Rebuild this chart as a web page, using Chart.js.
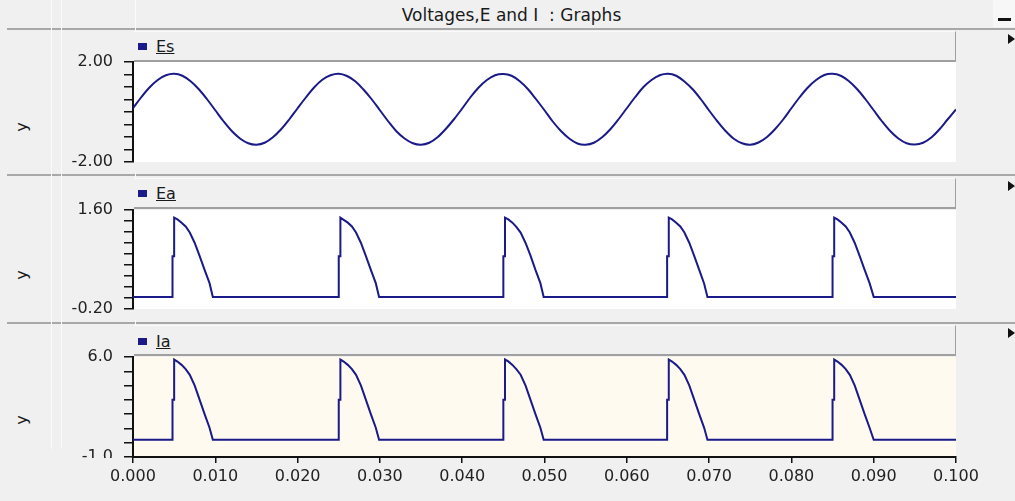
<!DOCTYPE html>
<html>
<head>
<meta charset="utf-8">
<script src="https://cdn.jsdelivr.net/npm/chart.js@4.4.0/dist/chart.umd.min.js"></script>
<style>
  html, body { margin: 0; padding: 0; }
  body {
    width: 1015px; height: 501px; overflow: hidden; position: relative;
    background: #f0f0f0; font-family: 'DejaVu Sans', sans-serif; color: #1a1a1a;
  }
  .abs { position: absolute; }
  .title { left: 4px; top: 0; width: 1015px; height: 29px; line-height: 30px; text-align: center; font-size: 17px; }
  .hline { height: 2px; background: #a8a8a8; }
  .vline { width: 1px; background: #fbfbfb; }
  .strip { left: 134px; width: 821px; border-right: 1px solid #a0a0a0; border-bottom: 2px solid #a0a0a0; border-top: 1px solid #fafafa; }
  .sq { width: 9px; height: 7px; background: #1a1a88; }
  .leg { font-size: 16px; text-decoration: underline; line-height: 20px; }
  .ylab { font-size: 16px; transform: rotate(-90deg); width: 20px; height: 20px; line-height: 20px; text-align: center; }
  .tri { width: 0; height: 0; border-top: 5px solid transparent; border-bottom: 5px solid transparent; border-left: 7px solid #111; }
  canvas { position: absolute; left: 0; }
</style>
</head>
<body>
<div class="abs title">Voltages,E and I&nbsp; : Graphs</div>
<div class="abs" style="left:993px;top:0;width:22px;height:27px;background:#f7f7f7;"></div>
<div class="abs" style="left:998px;top:18px;width:13px;height:3px;background:#111;"></div>

<div class="abs hline" style="left:7px;top:28px;width:1008px;"></div>
<div class="abs hline" style="left:7px;top:174px;width:1008px;"></div>
<div class="abs hline" style="left:7px;top:322px;width:1008px;"></div>

<div class="abs vline" style="left:51px;top:0;height:449px;"></div>
<div class="abs vline" style="left:61px;top:0;height:449px;"></div>
<div class="abs vline" style="left:135px;top:0;height:31px;"></div>
<div class="abs vline" style="left:135px;top:172px;height:6px;"></div>
<div class="abs vline" style="left:135px;top:320px;height:6px;"></div>

<div class="abs strip" style="top:31px;height:28px;"></div>
<div class="abs strip" style="top:178px;height:28px;"></div>
<div class="abs strip" style="top:325px;height:28px;"></div>

<div class="abs sq" style="left:138px;top:43px;"></div>
<div class="abs leg" style="left:156px;top:37px;">Es</div>
<div class="abs sq" style="left:138px;top:190px;"></div>
<div class="abs leg" style="left:156px;top:184px;">Ea</div>
<div class="abs sq" style="left:138px;top:338px;"></div>
<div class="abs leg" style="left:156px;top:332px;">Ia</div>

<div class="abs ylab" style="left:12px;top:117px;">y</div>
<div class="abs ylab" style="left:12px;top:265px;">y</div>
<div class="abs ylab" style="left:12px;top:410px;">y</div>

<div class="abs tri" style="left:1008px;top:34px;"></div>
<div class="abs tri" style="left:1008px;top:181px;"></div>
<div class="abs tri" style="left:1008px;top:328px;"></div>

<canvas id="cEs" width="1015" height="142" style="top:41px;"></canvas>
<canvas id="cEa" width="1015" height="141" style="top:189px;"></canvas>
<canvas id="cIa" width="1015" height="163" style="top:336px;"></canvas>

<script>
// time axis for the sine trace (s)
const esTime = [
  0.000, 0.001, 0.002, 0.003, 0.004, 0.005, 0.006, 0.007, 0.008, 0.009,
  0.010, 0.011, 0.012, 0.013, 0.014, 0.015, 0.016, 0.017, 0.018, 0.019,
  0.020, 0.021, 0.022, 0.023, 0.024, 0.025, 0.026, 0.027, 0.028, 0.029,
  0.030, 0.031, 0.032, 0.033, 0.034, 0.035, 0.036, 0.037, 0.038, 0.039,
  0.040, 0.041, 0.042, 0.043, 0.044, 0.045, 0.046, 0.047, 0.048, 0.049,
  0.050, 0.051, 0.052, 0.053, 0.054, 0.055, 0.056, 0.057, 0.058, 0.059,
  0.060, 0.061, 0.062, 0.063, 0.064, 0.065, 0.066, 0.067, 0.068, 0.069,
  0.070, 0.071, 0.072, 0.073, 0.074, 0.075, 0.076, 0.077, 0.078, 0.079,
  0.080, 0.081, 0.082, 0.083, 0.084, 0.085, 0.086, 0.087, 0.088, 0.089,
  0.090, 0.091, 0.092, 0.093, 0.094, 0.095, 0.096, 0.097, 0.098, 0.099,
  0.100
];
const esValues = [
  0.15, 0.59, 0.98, 1.28, 1.47, 1.53, 1.45, 1.23, 0.91, 0.51,
  0.07, -0.37, -0.76, -1.06, -1.25, -1.31, -1.23, -1.01, -0.69, -0.29,
  0.15, 0.58, 0.98, 1.29, 1.47, 1.53, 1.44, 1.23, 0.90, 0.51,
  0.07, -0.37, -0.77, -1.06, -1.25, -1.31, -1.23, -1.01, -0.68, -0.29,
  0.14, 0.59, 0.98, 1.28, 1.47, 1.52, 1.45, 1.23, 0.91, 0.50,
  0.07, -0.38, -0.76, -1.06, -1.26, -1.31, -1.23, -1.01, -0.69, -0.29,
  0.15, 0.59, 0.99, 1.28, 1.47, 1.53, 1.45, 1.22, 0.91, 0.51,
  0.06, -0.37, -0.76, -1.07, -1.25, -1.31, -1.22, -1.01, -0.69, -0.30,
  0.15, 0.59, 0.98, 1.28, 1.48, 1.53, 1.45, 1.23, 0.91, 0.51,
  0.07, -0.37, -0.76, -1.06, -1.25, -1.30, -1.23, -1.02, -0.69, -0.29,
  0.10
];

// time axis for the pulse traces (s)
const pulseTime = [
  0.0000,
  0.0048, 0.0048, 0.0050, 0.0050, 0.0054, 0.0059, 0.0064, 0.0069, 0.0075, 0.0081, 0.0087, 0.0093, 0.0097,
  0.0250, 0.0250, 0.0252, 0.0252, 0.0256, 0.0261, 0.0266, 0.0271, 0.0277, 0.0283, 0.0289, 0.0295, 0.0299,
  0.0450, 0.0450, 0.0452, 0.0452, 0.0456, 0.0461, 0.0466, 0.0471, 0.0477, 0.0483, 0.0489, 0.0495, 0.0499,
  0.0649, 0.0649, 0.0651, 0.0651, 0.0655, 0.0660, 0.0665, 0.0670, 0.0676, 0.0682, 0.0688, 0.0694, 0.0698,
  0.0850, 0.0850, 0.0852, 0.0852, 0.0856, 0.0861, 0.0866, 0.0871, 0.0877, 0.0883, 0.0889, 0.0895, 0.0900,
  0.1000
];
const eaValues = [
  0.02,
  0.02, 0.76, 0.76, 1.46, 1.43, 1.37, 1.30, 1.19, 1.00, 0.76, 0.51, 0.27, 0.02,
  0.02, 0.76, 0.76, 1.46, 1.42, 1.37, 1.30, 1.19, 1.00, 0.76, 0.51, 0.27, 0.02,
  0.02, 0.76, 0.76, 1.46, 1.43, 1.37, 1.29, 1.19, 1.00, 0.77, 0.51, 0.27, 0.02,
  0.02, 0.76, 0.76, 1.46, 1.43, 1.37, 1.30, 1.19, 1.00, 0.76, 0.51, 0.26, 0.02,
  0.02, 0.76, 0.76, 1.46, 1.43, 1.37, 1.30, 1.19, 1.00, 0.76, 0.51, 0.27, 0.02,
  0.02
];
const iaValues = [
  0.2,
  0.2, 3.0, 3.0, 5.82, 5.68, 5.45, 5.15, 4.75, 4.0, 3.0, 2.0, 1.05, 0.2,
  0.2, 3.0, 3.0, 5.82, 5.68, 5.45, 5.15, 4.75, 4.0, 3.0, 2.0, 1.05, 0.2,
  0.2, 3.0, 3.0, 5.82, 5.69, 5.45, 5.14, 4.76, 4.0, 3.0, 2.0, 1.05, 0.2,
  0.2, 3.0, 3.0, 5.82, 5.68, 5.45, 5.15, 4.75, 4.0, 3.0, 2.0, 1.04, 0.2,
  0.2, 3.0, 3.0, 5.82, 5.68, 5.45, 5.15, 4.75, 4.0, 3.0, 2.0, 1.05, 0.2,
  0.2
];

// axis ranges / labels
const xTicks = ['0.000', '0.010', '0.020', '0.030', '0.040', '0.050', '0.060', '0.070', '0.080', '0.090', '0.100'];
const esRange = [-2.0, 2.0, 0.5];
const eaRange = [-0.2, 1.6, 0.2];
const iaRange = [-1.0, 6.0, 1.0];

const lineColor = '#1a1a88';
const fontFamily = "'DejaVu Sans', sans-serif";

const plotBg = {
  id: 'plotBg',
  beforeDraw(chart, args, opts) {
    const a = chart.chartArea;
    const ctx = chart.ctx;
    ctx.save();
    ctx.fillStyle = opts.color;
    ctx.fillRect(a.left, a.top, a.right - a.left, a.bottom - a.top);
    ctx.restore();
  }
};

function toPoints(xs, ys) {
  return xs.map((x, i) => ({ x: x, y: ys[i] }));
}

function makePanel(id, xs, ys, range, digits, bg, showX, tension) {
  return new Chart(document.getElementById(id), {
    type: 'line',
    data: {
      datasets: [{
        data: toPoints(xs, ys),
        borderColor: lineColor,
        borderWidth: 2,
        pointRadius: 0,
        tension: tension,
        fill: false
      }]
    },
    options: {
      responsive: false,
      animation: false,
      layout: { padding: { top: 0, right: 59, bottom: 0, left: 0 } },
      plugins: {
        legend: { display: false },
        tooltip: { enabled: false },
        plotBg: { color: bg }
      },
      scales: {
        x: {
          type: 'linear',
          display: showX,
          min: 0,
          max: 0.1,
          afterBuildTicks: (scale) => {
            scale.ticks = xTicks.map(t => ({ value: parseFloat(t) }));
          },
          afterFit: (scale) => { if (showX) scale.height = 42; },
          ticks: {
            autoSkip: false,
            maxRotation: 0,
            padding: 4,
            color: '#222',
            font: { size: 16, family: fontFamily },
            callback: (v, i) => xTicks[i]
          },
          grid: { drawOnChartArea: false, tickLength: 6, color: '#111', lineWidth: 1.5 },
          border: { color: '#111', width: 2 }
        },
        y: {
          min: range[0],
          max: range[1],
          afterFit: (scale) => { scale.width = 133; },
          ticks: {
            stepSize: range[2],
            autoSkip: false,
            padding: 11,
            color: '#222',
            font: { size: 16, family: fontFamily, lineHeight: 1.25 },
            callback: (v, i, ticks) => (i === 0 || i === ticks.length - 1) ? Number(v).toFixed(digits) : ''
          },
          grid: { drawOnChartArea: false, tickLength: 9, color: '#111', lineWidth: 1.5 },
          border: { color: '#111', width: 2 }
        }
      }
    },
    plugins: [plotBg]
  });
}

const esChart = makePanel('cEs', esTime, esValues, esRange, 2, '#ffffff', false, 0.35);
const eaChart = makePanel('cEa', pulseTime, eaValues, eaRange, 2, '#ffffff', false, 0);
const iaChart = makePanel('cIa', pulseTime, iaValues, iaRange, 1, '#fefaf0', true, 0);

// the lowest y label of the last panel is cut off by the axis strip in the original
(function () {
  const a = iaChart.chartArea;
  const ctx = iaChart.ctx;
  ctx.save();
  ctx.fillStyle = '#f0f0f0';
  ctx.fillRect(62, a.bottom + 1, 60, 9);
  ctx.restore();
})();
</script>
</body>
</html>
